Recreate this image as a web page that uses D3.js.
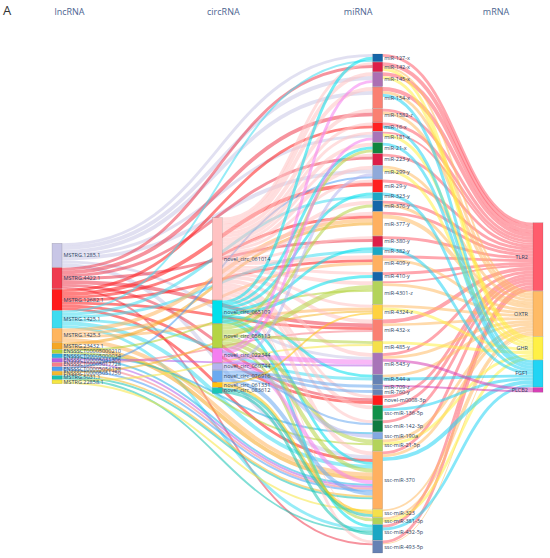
<!DOCTYPE html>
<html>
<head>
<meta charset="utf-8">
<script src="https://cdn.jsdelivr.net/npm/d3@7"></script>
<style>
  body { margin: 0; background: #fff; }
  text { font-family: "Open Sans", sans-serif; }
</style>
</head>
<body>
<svg id="chart" width="550" height="558"></svg>
<script>
// columns of the ceRNA network
var columns = ["lncRNA", "circRNA", "miRNA", "mRNA"];

var lncNames = ["MSTRG.1285.1", "MSTRG.4422.1", "MSTRG.12682.1", "MSTRG.1425.1", "MSTRG.1425.3",
                "MSTRG.23432.1", "ENSSSCT00005000210", "ENSSSCT00005000034", "ENSSSCT00005031306",
                "ENSSSCT00005017728", "ENSSSCT00005056138", "ENSSSCT00005051750", "MSTRG.5031.1", "MSTRG.22858.1"];
var lncColors = ["#c8c6e6", "#ef3b4f", "#ff1a1a", "#3fdcf0", "#ffb55e",
                 "#f5a623", "#b3d335", "#27b5e8", "#b45ee6",
                 "#f77f8a", "#4a9ff5", "#f5b82e", "#17c3b2", "#f5e642"];

var circNames = ["novel_circ_061014", "novel_circ_065109", "novel_circ_056113", "novel_circ_022344",
                 "novel_circ_060744", "novel_circ_076916", "novel_circ_061331", "novel_circ_083612"];
var circColors = ["#ffc2c2", "#00e0ec", "#b5d443", "#f47ef0",
                  "#b4b4ee", "#6aaaf0", "#ffc20e", "#19c6b5"];

var miNames = ["miR-127-x", "miR-142-x", "miR-145-x", "miR-154-x", "miR-1582-z", "miR-16-x",
               "miR-181-x", "miR-21-x", "miR-223-y", "miR-299-y", "miR-29-y", "miR-323-y",
               "miR-376-y", "miR-377-y", "miR-380-y", "miR-382-y", "miR-409-y", "miR-410-y",
               "miR-4301-z", "miR-4324-z", "miR-432-x", "miR-485-y", "miR-543-y", "miR-544-a",
               "miR-709-z", "miR-760-y", "novel-m0008-3p", "ssc-miR-136-5p", "ssc-miR-142-3p", "ssc-miR-190a",
               "ssc-miR-21-5p", "ssc-miR-370", "ssc-miR-323", "ssc-miR-381-3p", "ssc-miR-432-5p", "ssc-miR-493-5p"];
var miValues = [8, 10, 15, 22, 14, 9,
                11, 11, 12, 14, 13, 8,
                11, 25, 11, 8, 17, 9,
                24, 15, 22, 12, 22, 10,
                5, 5, 10, 15, 12, 7,
                12, 60, 8, 7, 16, 13];
var miColors = ["#1565a8", "#dc1f48", "#ac6fb3", "#fa8072", "#fa8072", "#ff2222",
                "#a874b8", "#10843f", "#dc1f48", "#8fa9d9", "#ff2020", "#1ba7c4",
                "#1565a8", "#ffb060", "#dc1f48", "#1ba7c4", "#ffb060", "#1565a8",
                "#b3d35a", "#ffd23f", "#fa8072", "#f5e04a", "#a874b8", "#6682b4",
                "#6f8fc4", "#6682b4", "#ff1a1a", "#10904a", "#0f7a40", "#83a9e2",
                "#b3d35a", "#ffb060", "#f5e04a", "#b3d35a", "#1ba7c4", "#6682b4"];

var mNames = ["TLR2", "OXTR", "GHR", "FGF1", "PLCB2"];
var mColors = ["#ff5c6c", "#ffbb66", "#fff045", "#22d4f4", "#d63fb5"];

// lncRNA -> miRNA
var lncLinks = [
  ["MSTRG.1285.1", "miR-127-x", 3], ["MSTRG.1285.1", "miR-145-x", 4], ["MSTRG.1285.1", "miR-154-x", 4],
  ["MSTRG.1285.1", "miR-181-x", 3], ["MSTRG.1285.1", "miR-299-y", 4], ["MSTRG.1285.1", "miR-543-y", 3],
  ["MSTRG.1285.1", "ssc-miR-370", 4],
  ["MSTRG.4422.1", "miR-142-x", 3], ["MSTRG.4422.1", "miR-1582-z", 4], ["MSTRG.4422.1", "miR-223-y", 3],
  ["MSTRG.4422.1", "miR-380-y", 3], ["MSTRG.4422.1", "miR-432-x", 4], ["MSTRG.4422.1", "novel-m0008-3p", 3],
  ["MSTRG.4422.1", "ssc-miR-493-5p", 2],
  ["MSTRG.12682.1", "miR-16-x", 3], ["MSTRG.12682.1", "miR-29-y", 4], ["MSTRG.12682.1", "miR-377-y", 3],
  ["MSTRG.12682.1", "miR-409-y", 3], ["MSTRG.12682.1", "miR-432-x", 3], ["MSTRG.12682.1", "novel-m0008-3p", 3],
  ["MSTRG.12682.1", "ssc-miR-370", 3],
  ["MSTRG.1425.1", "miR-127-x", 2], ["MSTRG.1425.1", "miR-323-y", 3], ["MSTRG.1425.1", "miR-382-y", 3],
  ["MSTRG.1425.1", "miR-544-a", 3], ["MSTRG.1425.1", "ssc-miR-370", 4], ["MSTRG.1425.1", "ssc-miR-432-5p", 3],
  ["MSTRG.1425.3", "miR-377-y", 4], ["MSTRG.1425.3", "miR-409-y", 3], ["MSTRG.1425.3", "miR-4324-z", 3],
  ["MSTRG.1425.3", "ssc-miR-370", 4],
  ["MSTRG.23432.1", "miR-377-y", 3], ["MSTRG.23432.1", "ssc-miR-370", 4],
  ["ENSSSCT00005000210", "miR-4301-z", 2], ["ENSSSCT00005000210", "ssc-miR-21-5p", 2],
  ["ENSSSCT00005000034", "ssc-miR-190a", 2], ["ENSSSCT00005000034", "ssc-miR-370", 2],
  ["ENSSSCT00005031306", "miR-543-y", 2], ["ENSSSCT00005031306", "ssc-miR-370", 2],
  ["ENSSSCT00005017728", "miR-432-x", 2], ["ENSSSCT00005017728", "ssc-miR-370", 2],
  ["ENSSSCT00005056138", "miR-299-y", 2], ["ENSSSCT00005056138", "ssc-miR-370", 2],
  ["ENSSSCT00005051750", "miR-4324-z", 2], ["ENSSSCT00005051750", "ssc-miR-370", 2],
  ["MSTRG.5031.1", "ssc-miR-432-5p", 2], ["MSTRG.5031.1", "ssc-miR-370", 2],
  ["MSTRG.22858.1", "miR-485-y", 2], ["MSTRG.22858.1", "ssc-miR-323", 2]
];

// circRNA -> miRNA
var circLinks = [
  ["novel_circ_061014", "miR-142-x", 3], ["novel_circ_061014", "miR-145-x", 4], ["novel_circ_061014", "miR-154-x", 4],
  ["novel_circ_061014", "miR-1582-z", 4], ["novel_circ_061014", "miR-16-x", 3], ["novel_circ_061014", "miR-181-x", 3],
  ["novel_circ_061014", "miR-21-x", 4], ["novel_circ_061014", "miR-223-y", 3], ["novel_circ_061014", "miR-299-y", 4],
  ["novel_circ_061014", "miR-29-y", 3], ["novel_circ_061014", "miR-376-y", 4], ["novel_circ_061014", "miR-377-y", 4],
  ["novel_circ_061014", "miR-380-y", 3], ["novel_circ_061014", "miR-409-y", 4], ["novel_circ_061014", "miR-410-y", 3],
  ["novel_circ_061014", "miR-4301-z", 4], ["novel_circ_061014", "miR-4324-z", 3], ["novel_circ_061014", "miR-432-x", 4],
  ["novel_circ_061014", "miR-543-y", 4], ["novel_circ_061014", "novel-m0008-3p", 3], ["novel_circ_061014", "ssc-miR-136-5p", 4],
  ["novel_circ_061014", "ssc-miR-142-3p", 3], ["novel_circ_061014", "ssc-miR-370", 4], ["novel_circ_061014", "ssc-miR-381-3p", 1],
  ["novel_circ_061014", "ssc-miR-493-5p", 3],
  ["novel_circ_065109", "miR-127-x", 3], ["novel_circ_065109", "miR-21-x", 3], ["novel_circ_065109", "miR-323-y", 3],
  ["novel_circ_065109", "miR-382-y", 3], ["novel_circ_065109", "miR-410-y", 3], ["novel_circ_065109", "miR-544-a", 3],
  ["novel_circ_065109", "ssc-miR-370", 3], ["novel_circ_065109", "ssc-miR-432-5p", 3],
  ["novel_circ_056113", "miR-21-x", 3], ["novel_circ_056113", "miR-376-y", 3], ["novel_circ_056113", "miR-4301-z", 5],
  ["novel_circ_056113", "miR-485-y", 3], ["novel_circ_056113", "ssc-miR-21-5p", 4], ["novel_circ_056113", "ssc-miR-370", 4],
  ["novel_circ_056113", "ssc-miR-381-3p", 3],
  ["novel_circ_022344", "miR-145-x", 3], ["novel_circ_022344", "miR-181-x", 3], ["novel_circ_022344", "miR-543-y", 5],
  ["novel_circ_022344", "ssc-miR-370", 4],
  ["novel_circ_060744", "miR-299-y", 3], ["novel_circ_060744", "ssc-miR-190a", 4],
  ["novel_circ_076916", "miR-709-z", 3], ["novel_circ_076916", "miR-760-y", 3], ["novel_circ_076916", "ssc-miR-142-3p", 2],
  ["novel_circ_076916", "ssc-miR-370", 4],
  ["novel_circ_061331", "miR-4324-z", 2], ["novel_circ_061331", "ssc-miR-323", 3],
  ["novel_circ_083612", "ssc-miR-432-5p", 3], ["novel_circ_083612", "ssc-miR-323", 3]
];

// miRNA -> mRNA
var mLinks = [
  ["miR-127-x", "TLR2", 3], ["miR-142-x", "TLR2", 4], ["miR-145-x", "TLR2", 4], ["miR-154-x", "TLR2", 4],
  ["miR-1582-z", "TLR2", 3], ["miR-16-x", "TLR2", 3], ["miR-181-x", "TLR2", 2], ["miR-223-y", "TLR2", 3],
  ["miR-29-y", "TLR2", 3], ["miR-376-y", "TLR2", 3], ["miR-377-y", "TLR2", 3], ["miR-380-y", "TLR2", 3],
  ["miR-409-y", "TLR2", 3], ["miR-410-y", "TLR2", 3], ["miR-4301-z", "TLR2", 2], ["miR-432-x", "TLR2", 4],
  ["miR-543-y", "TLR2", 3], ["novel-m0008-3p", "TLR2", 3], ["ssc-miR-136-5p", "TLR2", 3], ["ssc-miR-142-3p", "TLR2", 3],
  ["ssc-miR-370", "TLR2", 3], ["ssc-miR-432-5p", "TLR2", 3], ["ssc-miR-493-5p", "TLR2", 3],
  ["miR-142-x", "OXTR", 2], ["miR-154-x", "OXTR", 3], ["miR-1582-z", "OXTR", 3], ["miR-299-y", "OXTR", 3],
  ["miR-376-y", "OXTR", 3], ["miR-377-y", "OXTR", 4], ["miR-409-y", "OXTR", 3], ["miR-4301-z", "OXTR", 3],
  ["miR-4324-z", "OXTR", 3], ["miR-432-x", "OXTR", 3], ["miR-543-y", "OXTR", 3], ["miR-544-a", "OXTR", 3],
  ["ssc-miR-21-5p", "OXTR", 3], ["ssc-miR-370", "OXTR", 3], ["ssc-miR-323", "OXTR", 2], ["ssc-miR-381-3p", "OXTR", 2],
  ["ssc-miR-493-5p", "OXTR", 1],
  ["miR-142-x", "GHR", 3], ["miR-145-x", "GHR", 3], ["miR-181-x", "GHR", 3], ["miR-299-y", "GHR", 3],
  ["miR-4324-z", "GHR", 3], ["miR-485-y", "GHR", 3], ["ssc-miR-21-5p", "GHR", 3], ["ssc-miR-381-3p", "GHR", 3],
  ["miR-154-x", "FGF1", 3], ["miR-16-x", "FGF1", 3], ["miR-21-x", "FGF1", 3], ["miR-323-y", "FGF1", 3],
  ["miR-382-y", "FGF1", 3], ["miR-544-a", "FGF1", 3], ["ssc-miR-136-5p", "FGF1", 3], ["ssc-miR-370", "FGF1", 4],
  ["ssc-miR-432-5p", "FGF1", 3],
  ["miR-543-y", "PLCB2", 3], ["miR-709-z", "PLCB2", 2]
];

var width = 550, height = 558,
    yTop = 54, yBottom = 553,
    nodeWidth = 10,
    nodePadding = 0.5,
    linkOpacity = 0.55,
    labelSize = "5.5px",
    columnShift = [10, 2, 0, 4];   // nudge each column the way the relaxed layout sits

var svg = d3.select("#chart");
svg.append("rect").attr("width", width).attr("height", height).attr("fill", "#fff");

var x = d3.scalePoint().domain(columns).range([52, 533]);

// build nodes
var byName = {};
var colNodes = [[lncNames, lncColors], [circNames, circColors], [miNames, miColors], [mNames, mColors]]
  .map(function(c, ci) {
    return c[0].map(function(name, i) {
      var n = {name: name, col: ci, color: c[1][i], given: ci == 2 ? miValues[i] : 0,
               inSum: 0, outSum: 0, inLinks: [], outLinks: []};
      byName[name] = n;
      return n;
    });
  });

var links = [];
lncLinks.concat(circLinks).forEach(function(l) {
  links.push({source: byName[l[0]], target: byName[l[1]], value: l[2], color: byName[l[0]].color});
});
mLinks.forEach(function(l) {
  links.push({source: byName[l[0]], target: byName[l[1]], value: l[2], color: byName[l[1]].color});
});
links.forEach(function(l) {
  l.source.outSum += l.value; l.source.outLinks.push(l);
  l.target.inSum += l.value;  l.target.inLinks.push(l);
});
colNodes.forEach(function(col) {
  col.forEach(function(n) { n.value = Math.max(n.inSum, n.outSum, n.given); });
});

// one value scale for every column, fitted to the tallest
var ky = d3.scaleLinear()
  .domain([0, 1])
  .range([0, d3.min(colNodes, function(col) {
    return (yBottom - yTop - nodePadding * (col.length - 1)) / d3.sum(col, function(n) { return n.value; });
  })]);

var mid = (yTop + yBottom) / 2;
colNodes.forEach(function(col, ci) {
  var total = d3.sum(col, function(n) { return ky(n.value); }) + nodePadding * (col.length - 1);
  var y = mid - total / 2 + columnShift[ci];
  col.forEach(function(n) {
    n.x0 = x(columns[n.col]);
    n.x1 = n.x0 + nodeWidth;
    n.y0 = y;
    n.y1 = y + ky(n.value);
    y = n.y1 + nodePadding;
  });
});

// stack link ends on each node
colNodes.forEach(function(col) {
  col.forEach(function(n) {
    var sy = n.y0, ty = n.y0;
    n.outLinks.sort(function(a, b) { return a.target.y0 - b.target.y0; })
      .forEach(function(l) { l.width = ky(l.value); l.sy = sy + l.width / 2; sy += l.width; });
    n.inLinks.sort(function(a, b) { return a.source.y0 - b.source.y0; })
      .forEach(function(l) { l.ty = ty + ky(l.value) / 2; ty += ky(l.value); });
  });
});

var linkPath = d3.linkHorizontal()
  .source(function(d) { return [d.source.x1, d.sy]; })
  .target(function(d) { return [d.target.x0, d.ty]; });

svg.append("g")
  .attr("fill", "none")
  .selectAll("path")
  .data(links)
  .enter().append("path")
  .attr("d", linkPath)
  .attr("stroke", function(d) { return d.color; })
  .attr("stroke-opacity", linkOpacity)
  .attr("stroke-width", function(d) { return Math.max(0.5, d.width); });

var allNodes = [].concat.apply([], colNodes);

var node = svg.append("g")
  .selectAll("g")
  .data(allNodes)
  .enter().append("g");

node.append("rect")
  .attr("x", function(d) { return d.x0; })
  .attr("y", function(d) { return d.y0; })
  .attr("width", nodeWidth)
  .attr("height", function(d) { return Math.max(0.5, d.y1 - d.y0); })
  .attr("fill", function(d) { return d.color; })
  .attr("stroke", "rgba(68,68,68,0.35)")
  .attr("stroke-width", 0.4);

node.append("text")
  .attr("x", function(d) { return d.col == 3 ? d.x0 - 5 : d.x1 + 1.5; })
  .attr("y", function(d) { return (d.y0 + d.y1) / 2; })
  .attr("dy", "0.35em")
  .attr("text-anchor", function(d) { return d.col == 3 ? "end" : "start"; })
  .style("font-size", labelSize)
  .attr("fill", "#2a3f5f")
  .text(function(d) { return d.name; });

// column headers
var headerShift = [12.5, 6, -19.5, -42];
svg.append("g")
  .selectAll("text")
  .data(columns)
  .enter().append("text")
  .attr("x", function(d, i) { return x(d) + nodeWidth / 2 + headerShift[i]; })
  .attr("y", 15)
  .attr("text-anchor", "middle")
  .style("font-size", "9px")
  .attr("fill", "#4d6591")
  .text(function(d) { return d; });

svg.append("text")
  .attr("x", 3)
  .attr("y", 15)
  .style("font-size", "13px")
  .attr("fill", "#333")
  .text("A");
</script>
</body>
</html>
